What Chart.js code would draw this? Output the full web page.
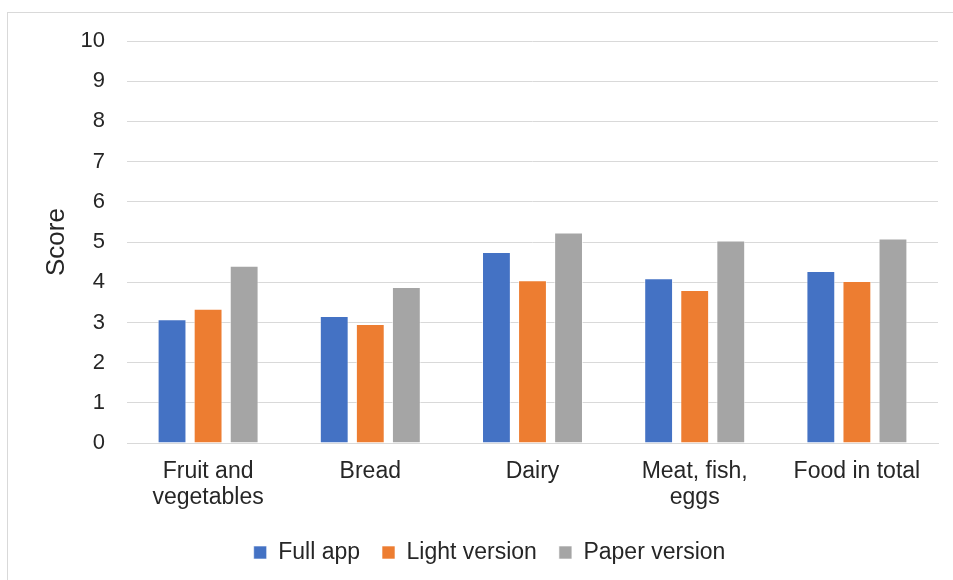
<!DOCTYPE html>
<html>
<head>
<meta charset="utf-8">
<script src="https://cdn.jsdelivr.net/npm/chart.js@4/dist/chart.umd.min.js"></script>
<style>
  body { margin: 0; background: #fff; }
  #marco {
    position: absolute; left: 7px; top: 12px;
    width: 980px; height: 600px;
    border: 1px solid #d9d9d9;
  }
  #lienzo { position: absolute; left: 0; top: 0; width: 953px; height: 580px; }
</style>
</head>
<body>
<div id="marco"></div>
<div id="lienzo"><canvas id="grafica"></canvas></div>
<script>
const categorias = [["Fruit and", "vegetables"], "Bread", "Dairy", ["Meat, fish,", "eggs"], "Food in total"];
const appCompleta = [3.08, 3.16, 4.75, 4.10, 4.28];
const versionLigera = [3.34, 2.96, 4.05, 3.81, 4.03];
const versionPapel = [4.41, 3.88, 5.24, 5.04, 5.09];
const marcasY = [0, 1, 2, 3, 4, 5, 6, 7, 8, 9, 10];

const fuente = "'Liberation Sans', Arial, sans-serif";
const colorTexto = "#262626";

function serie(nombre, valores, color) {
  return {
    label: nombre,
    data: valores,
    backgroundColor: color,
    borderColor: "rgba(255,255,255,0.6)",
    borderWidth: 1,
    barPercentage: 0.8,
    categoryPercentage: 0.667
  };
}

new Chart(document.getElementById("grafica"), {
  type: "bar",
  data: {
    labels: categorias,
    datasets: [
      serie("Full app", appCompleta, "#4472c4"),
      serie("Light version", versionLigera, "#ed7d31"),
      serie("Paper version", versionPapel, "#a5a5a5")
    ]
  },
  options: {
    responsive: true,
    maintainAspectRatio: false,
    animation: false,
    layout: { padding: { left: 41, right: 15, top: 41, bottom: 6 } },
    plugins: {
      tooltip: { enabled: false },
      legend: {
        position: "bottom",
        labels: {
          font: { family: fuente, size: 23 },
          color: colorTexto,
          boxWidth: 13,
          boxHeight: 13,
          padding: 22
        }
      }
    },
    scales: {
      x: {
        grid: { display: false, drawTicks: false },
        border: { color: "#d9d9d9", width: 1 },
        ticks: {
          font: { family: fuente, size: 23, lineHeight: 1.15 },
          color: colorTexto,
          padding: 15,
          maxRotation: 0
        },
        // las etiquetas de dos líneas pueden invadir el hueco sobre la leyenda
        afterFit: eje => { eje.height -= 7; }
      },
      y: {
        min: 0,
        max: 10,
        afterBuildTicks: eje => { eje.ticks = marcasY.map(v => ({ value: v })); },
        afterFit: eje => { eje.width = 86; },
        grid: { color: "#d9d9d9", lineWidth: 1, drawTicks: false },
        border: { display: false },
        ticks: {
          font: { family: fuente, size: 22 },
          color: colorTexto,
          padding: 22
        },
        title: {
          display: true,
          text: "Score",
          font: { family: fuente, size: 26 },
          color: colorTexto,
          padding: { top: 0, bottom: 8 }
        }
      }
    }
  }
});
</script>
</body>
</html>
